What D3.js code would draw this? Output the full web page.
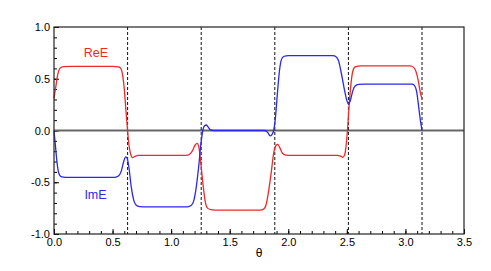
<!DOCTYPE html>
<html>
<head>
<meta charset="utf-8">
<script src="https://cdn.jsdelivr.net/npm/d3@7"></script>
<style>
  body { margin: 0; background: #fff; }
  text { font-family: "Liberation Sans", Arial, sans-serif; }
</style>
</head>
<body>
<div id="graphContainer"></div>
<script>
// values: [theta, value]
const reE = [
  [0.0, 0.31], [0.015, 0.42], [0.03, 0.53], [0.05, 0.6], [0.08, 0.617], [0.15, 0.62],
  [0.5, 0.62], [0.55, 0.615], [0.57, 0.6], [0.585, 0.54], [0.6, 0.4], [0.615, 0.18],
  [0.628, 0.0], [0.64, -0.14], [0.655, -0.23], [0.67, -0.262], [0.69, -0.25], [0.72, -0.24],
  [1.1, -0.24], [1.15, -0.235], [1.18, -0.2], [1.205, -0.14], [1.222, -0.125], [1.235, -0.15],
  [1.25, -0.28], [1.27, -0.5], [1.29, -0.68], [1.31, -0.75], [1.34, -0.765], [1.4, -0.77],
  [1.76, -0.77], [1.79, -0.76], [1.81, -0.72], [1.83, -0.6], [1.855, -0.4], [1.875, -0.22],
  [1.895, -0.145], [1.91, -0.135], [1.925, -0.16], [1.95, -0.22], [1.98, -0.238], [2.02, -0.24],
  [2.42, -0.24], [2.45, -0.25], [2.465, -0.26], [2.48, -0.24], [2.49, -0.18], [2.505, 0.0],
  [2.52, 0.25], [2.535, 0.45], [2.55, 0.57], [2.57, 0.615], [2.62, 0.625], [3.04, 0.625],
  [3.07, 0.61], [3.09, 0.57], [3.11, 0.48], [3.125, 0.38], [3.1416, 0.3]
];

const imE = [
  [0.0, 0.0], [0.01, -0.12], [0.025, -0.3], [0.04, -0.41], [0.06, -0.445], [0.1, -0.452],
  [0.52, -0.452], [0.55, -0.44], [0.575, -0.39], [0.595, -0.3], [0.612, -0.255], [0.625, -0.27],
  [0.64, -0.36], [0.66, -0.55], [0.68, -0.67], [0.7, -0.72], [0.73, -0.735], [0.8, -0.737],
  [1.14, -0.737], [1.17, -0.725], [1.19, -0.69], [1.21, -0.58], [1.235, -0.35], [1.255, -0.12],
  [1.27, 0.0], [1.285, 0.045], [1.3, 0.053], [1.315, 0.035], [1.335, 0.008], [1.36, 0.0],
  [1.8, 0.0], [1.825, -0.02], [1.845, -0.052], [1.86, -0.04], [1.875, 0.0], [1.89, 0.12],
  [1.91, 0.4], [1.925, 0.58], [1.94, 0.68], [1.96, 0.715], [2.0, 0.723], [2.38, 0.723],
  [2.41, 0.71], [2.43, 0.67], [2.45, 0.57], [2.475, 0.42], [2.5, 0.29], [2.515, 0.256],
  [2.53, 0.29], [2.55, 0.38], [2.57, 0.43], [2.6, 0.446], [2.65, 0.448], [3.06, 0.448],
  [3.08, 0.43], [3.095, 0.38], [3.11, 0.26], [3.125, 0.12], [3.1416, 0.0]
];

const dividers = [Math.PI / 5, 2 * Math.PI / 5, 3 * Math.PI / 5, 4 * Math.PI / 5, Math.PI];
const xTicks = [0, 0.5, 1.0, 1.5, 2.0, 2.5, 3.0, 3.5];
const yTicks = [-1.0, -0.5, 0.0, 0.5, 1.0];
const seriesLabels = ["ReE", "ImE"];

const width = 491;
const height = 271;
const margin = { top: 27, right: 27, bottom: 37, left: 54 };

const svg = d3
  .select("#graphContainer")
  .append("svg")
  .attr("width", width)
  .attr("height", height);

const x = d3
  .scaleLinear()
  .domain([0, 3.5])
  .range([margin.left, width - margin.right]);

const y = d3
  .scaleLinear()
  .domain([-1, 1])
  .range([height - margin.bottom, margin.top]);

// minor ticks
svg
  .append("g")
  .attr("transform", `translate(0,${y(-1)})`)
  .call(d3.axisBottom(x).tickValues(d3.range(0, 3.501, 0.1)).tickSize(-3).tickFormat(""))
  .call((g) => g.select(".domain").remove());

svg
  .append("g")
  .attr("transform", `translate(${x(0)},0)`)
  .call(d3.axisLeft(y).tickValues(d3.range(-1, 1.001, 0.1)).tickSize(-3).tickFormat(""))
  .call((g) => g.select(".domain").remove());

// major ticks with labels
svg
  .append("g")
  .attr("transform", `translate(0,${y(-1)})`)
  .call(
    d3.axisBottom(x).tickValues(xTicks).tickSize(-5).tickPadding(4)
      .tickFormat((d) => d.toFixed(1))
  )
  .call((g) => g.select(".domain").remove())
  .call((g) => g.selectAll("text").attr("font-size", 11).attr("font-family", null));

svg
  .append("g")
  .attr("transform", `translate(${x(0)},0)`)
  .call(
    d3.axisLeft(y).tickValues(yTicks).tickSize(-5).tickPadding(4)
      .tickFormat((d) => d.toFixed(1))
  )
  .call((g) => g.select(".domain").remove())
  .call((g) => g.selectAll("text").attr("font-size", 11).attr("font-family", null));

// zero line
svg
  .append("line")
  .attr("x1", x(0))
  .attr("x2", x(3.5))
  .attr("y1", y(0))
  .attr("y2", y(0))
  .attr("stroke", "#666")
  .attr("stroke-width", 2);

// dashed dividers
svg
  .append("g")
  .selectAll("line")
  .data(dividers)
  .enter()
  .append("line")
  .attr("x1", (d) => x(d))
  .attr("x2", (d) => x(d))
  .attr("y1", y(1))
  .attr("y2", y(-1))
  .attr("stroke", "#111")
  .attr("stroke-width", 1)
  .attr("stroke-dasharray", "3,2");

const line = d3
  .line()
  .x((d) => x(d[0]))
  .y((d) => y(d[1]))
  .curve(d3.curveMonotoneX);

svg
  .append("path")
  .datum(reE)
  .attr("d", line)
  .attr("fill", "none")
  .attr("stroke", "#f02828")
  .attr("stroke-width", 1.3);

svg
  .append("path")
  .datum(imE)
  .attr("d", line)
  .attr("fill", "none")
  .attr("stroke", "#2828f0")
  .attr("stroke-width", 1.3);

// frame
svg
  .append("rect")
  .attr("x", x(0))
  .attr("y", y(1))
  .attr("width", x(3.5) - x(0))
  .attr("height", y(-1) - y(1))
  .attr("fill", "none")
  .attr("stroke", "#222")
  .attr("stroke-width", 1.2);

svg
  .append("text")
  .text(seriesLabels[0])
  .attr("x", 96)
  .attr("y", 56.5)
  .attr("text-anchor", "middle")
  .attr("font-size", 12.5)
  .attr("fill", "#f02828");

svg
  .append("text")
  .text(seriesLabels[1])
  .attr("x", 95.5)
  .attr("y", 199)
  .attr("text-anchor", "middle")
  .attr("font-size", 12.5)
  .attr("fill", "#2828f0");

svg
  .append("text")
  .text("θ")
  .attr("x", (x(0) + x(3.5)) / 2)
  .attr("y", 257)
  .attr("text-anchor", "middle")
  .attr("font-size", 12);
</script>
</body>
</html>
